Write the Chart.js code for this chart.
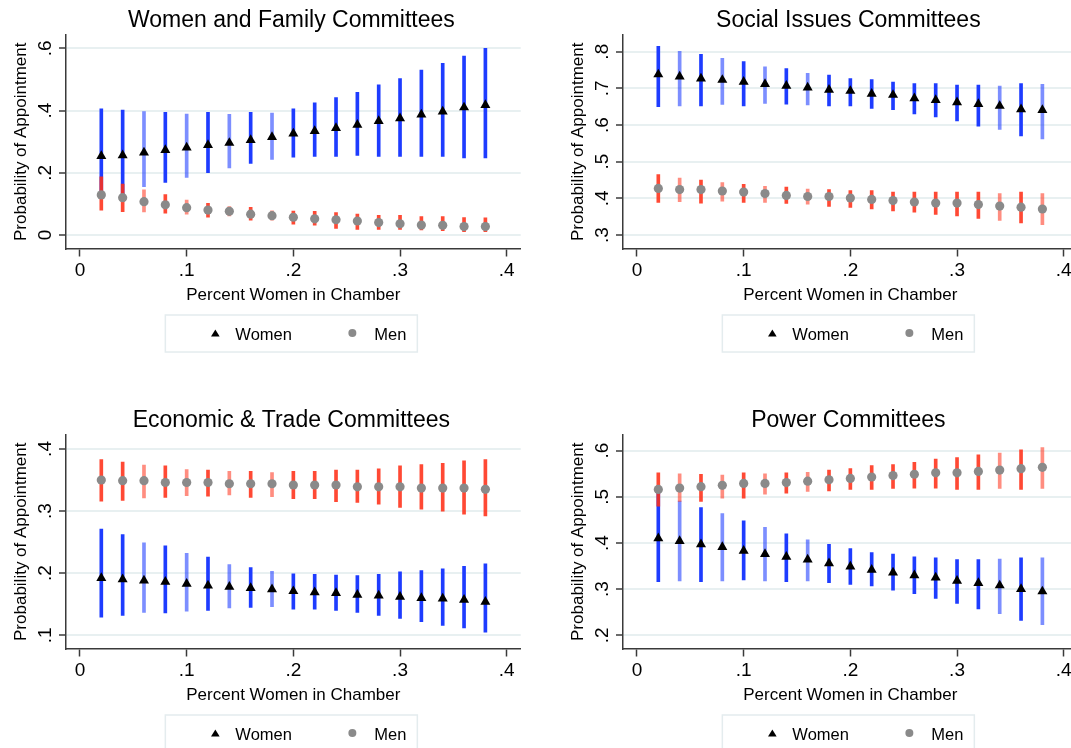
<!DOCTYPE html>
<html>
<head>
<meta charset="utf-8">
<script src="https://cdn.jsdelivr.net/npm/chart.js@4.4.1/dist/chart.umd.min.js"></script>
<style>
  html, body { margin: 0; padding: 0; background: #fff; overflow: hidden; }
  #wrap { position: relative; width: 1071px; height: 748px; overflow: hidden; }
  .panel { position: absolute; width: 557px; height: 400px; }
</style>
</head>
<body>
<div id="wrap">
  <div class="panel" style="left:0;top:0"><canvas id="c1" width="557" height="400"></canvas></div>
  <div class="panel" style="left:557px;top:0"><canvas id="c2" width="557" height="400"></canvas></div>
  <div class="panel" style="left:0;top:400px"><canvas id="c3" width="557" height="400"></canvas></div>
  <div class="panel" style="left:557px;top:400px"><canvas id="c4" width="557" height="400"></canvas></div>
</div>
<script>
'use strict';

// x values (share of women in chamber) and tick labels
const pctWomen = [0.02, 0.04, 0.06, 0.08, 0.10, 0.12, 0.14, 0.16, 0.18, 0.20,
                  0.22, 0.24, 0.26, 0.28, 0.30, 0.32, 0.34, 0.36, 0.38];
const xTicks = [0, 0.1, 0.2, 0.3, 0.4];

// Women and Family Committees
const wfTicks = [0, 0.2, 0.4, 0.6];
const wfWomen   = [0.254, 0.256, 0.265, 0.273, 0.281, 0.289, 0.296, 0.305, 0.315, 0.326, 0.334, 0.344, 0.354, 0.366, 0.375, 0.387, 0.397, 0.410, 0.418];
const wfWomenHi = [0.406, 0.402, 0.397, 0.394, 0.389, 0.394, 0.388, 0.394, 0.392, 0.406, 0.425, 0.442, 0.459, 0.483, 0.503, 0.530, 0.552, 0.575, 0.600];
const wfWomenLo = [0.120, 0.130, 0.155, 0.169, 0.185, 0.200, 0.216, 0.230, 0.243, 0.250, 0.253, 0.253, 0.256, 0.253, 0.253, 0.253, 0.253, 0.248, 0.248];
const wfMen     = [0.129, 0.120, 0.107, 0.097, 0.088, 0.080, 0.076, 0.067, 0.062, 0.057, 0.052, 0.049, 0.045, 0.040, 0.036, 0.032, 0.031, 0.027, 0.027];
const wfMenHi   = [0.187, 0.164, 0.145, 0.130, 0.112, 0.102, 0.091, 0.089, 0.078, 0.077, 0.076, 0.072, 0.067, 0.063, 0.063, 0.059, 0.059, 0.056, 0.055];
const wfMenLo   = [0.080, 0.075, 0.074, 0.070, 0.067, 0.057, 0.061, 0.048, 0.048, 0.035, 0.032, 0.021, 0.018, 0.018, 0.018, 0.016, 0.014, 0.011, 0.011];

// Social Issues Committees
const socTicks = [0.3, 0.4, 0.5, 0.6, 0.7, 0.8];
const socWomen   = [0.738, 0.732, 0.727, 0.723, 0.718, 0.712, 0.707, 0.702, 0.696, 0.693, 0.685, 0.682, 0.673, 0.668, 0.662, 0.657, 0.652, 0.643, 0.641];
const socWomenHi = [0.815, 0.801, 0.793, 0.782, 0.773, 0.759, 0.754, 0.741, 0.736, 0.727, 0.724, 0.717, 0.713, 0.713, 0.709, 0.709, 0.706, 0.713, 0.711];
const socWomenLo = [0.650, 0.652, 0.652, 0.656, 0.652, 0.659, 0.657, 0.655, 0.652, 0.652, 0.645, 0.642, 0.630, 0.622, 0.611, 0.597, 0.588, 0.570, 0.562];
const socMen     = [0.427, 0.424, 0.424, 0.420, 0.417, 0.413, 0.408, 0.405, 0.405, 0.401, 0.397, 0.394, 0.390, 0.387, 0.387, 0.383, 0.379, 0.376, 0.371];
const socMenHi   = [0.465, 0.455, 0.450, 0.443, 0.438, 0.433, 0.431, 0.425, 0.424, 0.421, 0.421, 0.417, 0.417, 0.417, 0.417, 0.417, 0.413, 0.417, 0.413];
const socMenLo   = [0.389, 0.391, 0.387, 0.392, 0.389, 0.389, 0.386, 0.384, 0.378, 0.375, 0.371, 0.366, 0.362, 0.356, 0.352, 0.345, 0.340, 0.333, 0.328];

// Economic & Trade Committees
const econTicks = [0.1, 0.2, 0.3, 0.4];
const econWomen   = [0.192, 0.190, 0.188, 0.186, 0.183, 0.180, 0.178, 0.176, 0.174, 0.171, 0.169, 0.168, 0.165, 0.164, 0.162, 0.160, 0.159, 0.157, 0.154];
const econWomenHi = [0.271, 0.262, 0.249, 0.244, 0.232, 0.226, 0.214, 0.209, 0.203, 0.199, 0.198, 0.197, 0.196, 0.198, 0.202, 0.204, 0.207, 0.211, 0.215];
const econWomenLo = [0.129, 0.132, 0.137, 0.136, 0.139, 0.140, 0.144, 0.145, 0.146, 0.142, 0.142, 0.140, 0.137, 0.132, 0.127, 0.122, 0.116, 0.112, 0.105];
const econMen     = [0.350, 0.349, 0.349, 0.346, 0.346, 0.346, 0.344, 0.344, 0.344, 0.342, 0.342, 0.342, 0.339, 0.339, 0.339, 0.337, 0.337, 0.337, 0.335];
const econMenHi   = [0.383, 0.379, 0.374, 0.373, 0.367, 0.366, 0.364, 0.364, 0.362, 0.364, 0.364, 0.366, 0.366, 0.368, 0.373, 0.375, 0.377, 0.381, 0.383];
const econMenLo   = [0.316, 0.317, 0.321, 0.322, 0.325, 0.324, 0.326, 0.322, 0.323, 0.320, 0.320, 0.315, 0.314, 0.311, 0.306, 0.303, 0.300, 0.295, 0.292];

// Power Committees
const powTicks = [0.2, 0.3, 0.4, 0.5, 0.6];
const powWomen   = [0.410, 0.404, 0.397, 0.391, 0.383, 0.376, 0.370, 0.364, 0.356, 0.349, 0.342, 0.336, 0.330, 0.325, 0.318, 0.313, 0.308, 0.300, 0.295];
const powWomenHi = [0.508, 0.491, 0.477, 0.464, 0.448, 0.434, 0.420, 0.407, 0.397, 0.388, 0.379, 0.376, 0.370, 0.368, 0.364, 0.364, 0.365, 0.368, 0.368];
const powWomenLo = [0.316, 0.318, 0.316, 0.318, 0.320, 0.318, 0.316, 0.318, 0.314, 0.310, 0.307, 0.298, 0.290, 0.280, 0.269, 0.257, 0.247, 0.232, 0.223];
const powMen     = [0.516, 0.519, 0.522, 0.525, 0.529, 0.529, 0.531, 0.534, 0.537, 0.540, 0.543, 0.546, 0.549, 0.552, 0.552, 0.555, 0.558, 0.561, 0.564];
const powMenHi   = [0.552, 0.550, 0.549, 0.547, 0.552, 0.550, 0.552, 0.553, 0.558, 0.561, 0.568, 0.570, 0.575, 0.582, 0.585, 0.591, 0.595, 0.602, 0.607];
const powMenLo   = [0.480, 0.490, 0.490, 0.497, 0.497, 0.506, 0.508, 0.512, 0.513, 0.516, 0.516, 0.518, 0.519, 0.519, 0.516, 0.516, 0.518, 0.516, 0.518];

// some bars look washed out in the original (1 = solid, 0 = pale)
const leftShade  = [1, 1, 0, 1, 0, 1, 0, 1, 0, 1, 1, 1, 1, 1, 1, 1, 1, 1, 1];
const rightShade = [1, 0, 1, 0, 1, 0, 1, 0, 1, 1, 1, 1, 1, 1, 1, 1, 0, 1, 0];

const FONT = "'Liberation Sans', Arial, Helvetica, sans-serif";
const AXIS = '#3a3a3a';
const BLUE = 'rgba(30, 60, 255, 1)';
const BLUE_PALE = 'rgba(30, 60, 255, 0.58)';
const RED = 'rgba(255, 48, 24, 0.88)';
const RED_PALE = 'rgba(255, 48, 24, 0.55)';
const X_TITLE = 'Percent Women in Chamber';
const Y_TITLE = 'Probability of Appointment';

function fmt(v) {
    if (v === 0) return '0';
    return v.toFixed(1).replace(/^0/, '');
}

// Titles, rotated y labels and the boxed legend, Stata style
const panelDecor = {
    id: 'panelDecor',
    afterDraw(chart, args, opts) {
        const ctx = chart.ctx;
        const area = chart.chartArea;
        const yScale = chart.scales.y;
        const cx = (area.left + area.right) / 2;
        const cy = (area.top + area.bottom) / 2;

        ctx.save();
        ctx.fillStyle = '#000';
        ctx.textAlign = 'center';
        ctx.textBaseline = 'alphabetic';

        // panel title
        ctx.font = '23px ' + FONT;
        ctx.fillText(opts.title, cx - 2, 27);

        // x axis title
        ctx.font = '17px ' + FONT;
        ctx.fillText(X_TITLE, cx, 300);

        // y axis title
        ctx.save();
        ctx.translate(25.5, cy);
        ctx.rotate(-Math.PI / 2);
        ctx.fillText(Y_TITLE, 0, 0);
        ctx.restore();

        // y tick labels, rotated
        ctx.font = '19px ' + FONT;
        yScale.ticks.forEach(function(t) {
            const py = yScale.getPixelForValue(t.value);
            ctx.save();
            ctx.translate(51.3, py);
            ctx.rotate(-Math.PI / 2);
            ctx.fillText(fmt(t.value), 0, 0);
            ctx.restore();
        });

        // legend
        ctx.strokeStyle = '#e4ecee';
        ctx.lineWidth = 1.5;
        ctx.strokeRect(cx - 128, 315, 252, 37);

        const ly = 334;
        const tx = cx - 78;
        ctx.fillStyle = '#000';
        ctx.beginPath();
        ctx.moveTo(tx, ly - 4.5);
        ctx.lineTo(tx + 4.3, ly + 2.5);
        ctx.lineTo(tx - 4.3, ly + 2.5);
        ctx.closePath();
        ctx.fill();

        ctx.fillStyle = '#8a8a8a';
        ctx.beginPath();
        ctx.arc(cx + 59, ly - 1, 4, 0, Math.PI * 2);
        ctx.fill();

        ctx.fillStyle = '#000';
        ctx.textAlign = 'left';
        ctx.font = '16.5px ' + FONT;
        ctx.fillText('Women', cx - 58, 340);
        ctx.fillText('Men', cx + 81, 340);
        ctx.restore();
    }
};

function points(ys) {
    return pctWomen.map(function(x, i) { return { x: x, y: ys[i] }; });
}

function ranges(lo, hi) {
    return pctWomen.map(function(x, i) { return { x: x, y: [lo[i], hi[i]] }; });
}

function makePanel(p) {
    const ctx = document.getElementById(p.id).getContext('2d');
    const womenColors = p.shade.map(function(s) { return s ? BLUE : BLUE_PALE; });
    const menColors = p.shade.map(function(s) { return s ? RED : RED_PALE; });

    new Chart(ctx, {
        type: 'scatter',
        data: {
            datasets: [
                {
                    type: 'bar',
                    label: 'Women CI',
                    data: ranges(p.womenLo, p.womenHi),
                    backgroundColor: womenColors,
                    barThickness: 3,
                    grouped: false,
                    order: 3
                },
                {
                    type: 'bar',
                    label: 'Men CI',
                    data: ranges(p.menLo, p.menHi),
                    backgroundColor: menColors,
                    barThickness: 3,
                    grouped: false,
                    order: 2
                },
                {
                    label: 'Women',
                    data: points(p.women),
                    pointStyle: 'triangle',
                    pointRadius: 5.8,
                    backgroundColor: '#000',
                    borderWidth: 0,
                    order: 1
                },
                {
                    label: 'Men',
                    data: points(p.men),
                    pointStyle: 'circle',
                    pointRadius: 4.6,
                    backgroundColor: '#8a8a8a',
                    borderWidth: 0,
                    order: 0
                }
            ]
        },
        options: {
            responsive: false,
            animation: false,
            devicePixelRatio: window.devicePixelRatio || 1,
            layout: { padding: { top: 35, right: 36.3, left: 0, bottom: 0 } },
            plugins: {
                legend: { display: false },
                title: { display: false },
                tooltip: { enabled: false },
                panelDecor: { title: p.title }
            },
            scales: {
                x: {
                    type: 'linear',
                    min: -0.0131,
                    max: 0.4131,
                    offset: false,
                    afterBuildTicks: function(scale) {
                        scale.ticks = xTicks.map(function(v) { return { value: v }; });
                    },
                    afterFit: function(scale) { scale.height = 151.5; },
                    grid: {
                        offset: false,
                        drawOnChartArea: false,
                        tickLength: 8,
                        tickColor: AXIS,
                        tickWidth: 1.5
                    },
                    border: { color: AXIS, width: 1.5 },
                    ticks: {
                        color: '#000',
                        font: { family: FONT, size: 19 },
                        padding: 2.5,
                        maxRotation: 0,
                        autoSkip: false,
                        callback: function(v) { return fmt(v); }
                    }
                },
                y: {
                    type: 'linear',
                    min: p.yMin,
                    max: p.yMax,
                    afterBuildTicks: function(scale) {
                        scale.ticks = p.yTicks.map(function(v) { return { value: v }; });
                    },
                    afterFit: function(scale) { scale.width = 66; },
                    grid: {
                        color: '#e8f0f1',
                        lineWidth: 2,
                        tickLength: 7,
                        tickColor: AXIS,
                        tickWidth: 1.5
                    },
                    border: { color: AXIS, width: 1.5 },
                    ticks: { display: false }
                }
            }
        },
        plugins: [panelDecor]
    });
}

makePanel({
    id: 'c1', title: 'Women and Family Committees',
    yMin: -0.0434, yMax: 0.643, yTicks: wfTicks, shade: leftShade,
    women: wfWomen, womenLo: wfWomenLo, womenHi: wfWomenHi,
    men: wfMen, menLo: wfMenLo, menHi: wfMenHi
});
makePanel({
    id: 'c2', title: 'Social Issues Committees',
    yMin: 0.2632, yMax: 0.8456, yTicks: socTicks, shade: rightShade,
    women: socWomen, womenLo: socWomenLo, womenHi: socWomenHi,
    men: socMen, menLo: socMenLo, menHi: socMenHi
});
makePanel({
    id: 'c3', title: 'Economic & Trade Committees',
    yMin: 0.0787, yMax: 0.4225, yTicks: econTicks, shade: leftShade,
    women: econWomen, womenLo: econWomenLo, womenHi: econWomenHi,
    men: econMen, menLo: econMenLo, menHi: econMenHi
});
makePanel({
    id: 'c4', title: 'Power Committees',
    yMin: 0.1714, yMax: 0.634, yTicks: powTicks, shade: rightShade,
    women: powWomen, womenLo: powWomenLo, womenHi: powWomenHi,
    men: powMen, menLo: powMenLo, menHi: powMenHi
});
</script>
</body>
</html>
